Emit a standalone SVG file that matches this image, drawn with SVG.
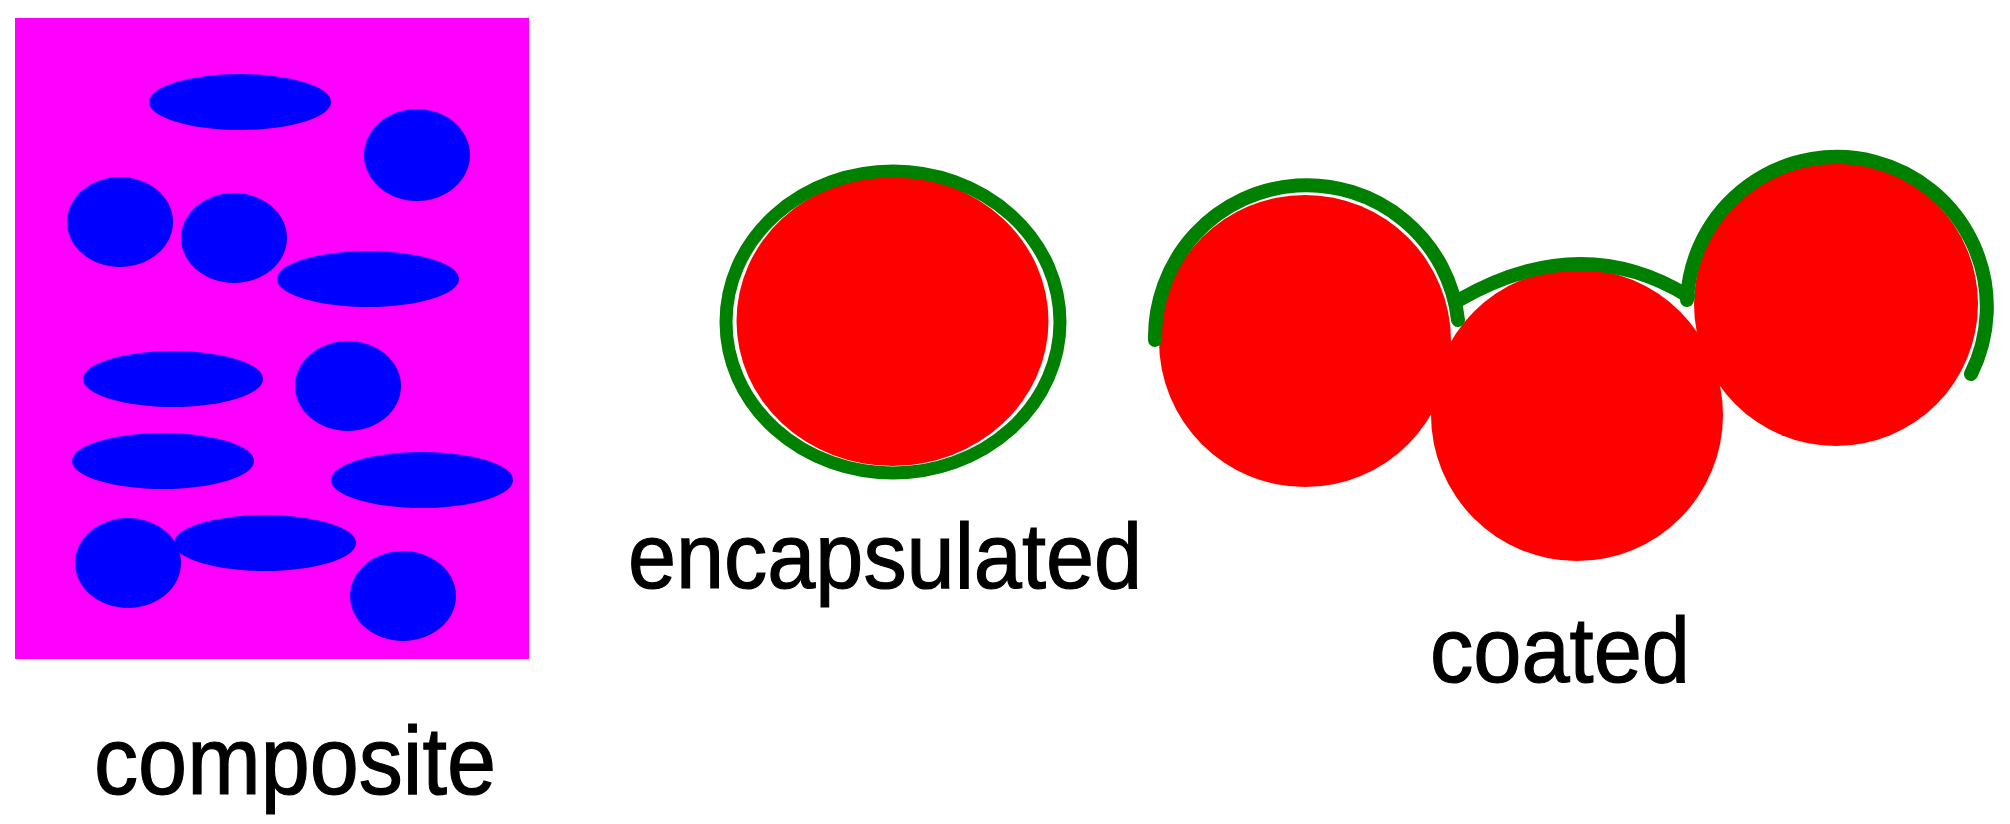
<svg xmlns="http://www.w3.org/2000/svg" width="2010" height="824" viewBox="0 0 2010 824">
<style>
.lbl{font-family:"Liberation Sans",Arial,sans-serif;fill:#000;stroke:#000;stroke-width:1.2}
.fill{fill:#0000FF}
.ball{fill:#FF0000}
.coat{fill:none;stroke:#008000;stroke-width:14;stroke-linecap:round}
</style>
<rect width="2010" height="824" fill="#fff"/>
<g id="composite">
<rect x="15" y="18" width="514" height="641" fill="#FF00FF"/>
<ellipse class="fill" cx="240" cy="102" rx="91" ry="28"/>
<ellipse class="fill" cx="417" cy="155" rx="53" ry="46"/>
<ellipse class="fill" cx="120" cy="222" rx="53" ry="45"/>
<ellipse class="fill" cx="234" cy="238" rx="53" ry="45"/>
<ellipse class="fill" cx="368" cy="279" rx="91" ry="28"/>
<ellipse class="fill" cx="173" cy="379" rx="90" ry="28"/>
<ellipse class="fill" cx="348" cy="386" rx="53" ry="45"/>
<ellipse class="fill" cx="163" cy="461" rx="91" ry="28"/>
<ellipse class="fill" cx="422" cy="480" rx="91" ry="28"/>
<ellipse class="fill" cx="265" cy="543" rx="91" ry="28"/>
<ellipse class="fill" cx="128" cy="563" rx="53" ry="45"/>
<ellipse class="fill" cx="403" cy="596" rx="53" ry="45"/>
<text class="lbl" x="94" y="794" font-size="96" textLength="402" lengthAdjust="spacingAndGlyphs">composite</text>
</g>
<g id="encapsulated">
<ellipse class="ball" cx="892.5" cy="321" rx="156" ry="145"/>
<ellipse class="coat" style="stroke-width:13" cx="893" cy="322" rx="167" ry="151"/>
<text class="lbl" x="628" y="588" font-size="92" textLength="514" lengthAdjust="spacingAndGlyphs">encapsulated</text>
</g>
<g id="coated">
<circle class="ball" cx="1305" cy="341" r="146"/>
<circle class="ball" cx="1577" cy="415" r="146"/>
<circle class="ball" cx="1836" cy="304" r="142"/>
<path class="coat" d="M1155 340 A152 152 0 0 1 1458 320"/>
<path class="coat" d="M1459 300 Q1581 230 1688 296"/>
<path class="coat" d="M1687 300 A150 150 0 1 1 1971 374"/>
<text class="lbl" x="1430" y="682" font-size="92" textLength="260" lengthAdjust="spacingAndGlyphs">coated</text>
</g>
</svg>
